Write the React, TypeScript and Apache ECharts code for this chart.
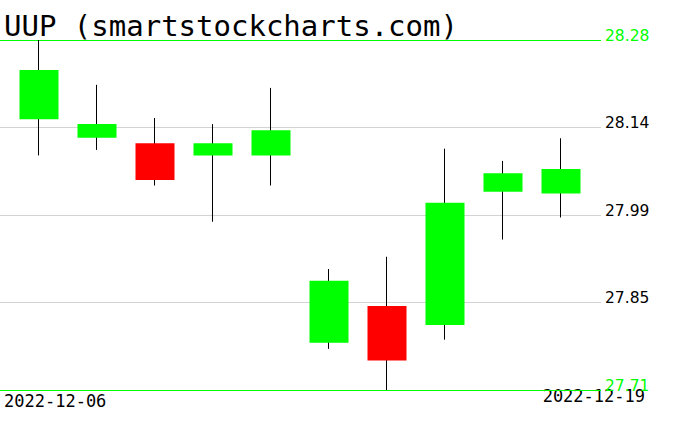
import React, { useEffect, useRef } from "react";
import * as echarts from "echarts";

const titleText = "UUP (smartstockcharts.com)";
const dates = ["2022-12-06", "2022-12-07", "2022-12-08", "2022-12-09", "2022-12-12", "2022-12-13", "2022-12-14", "2022-12-15", "2022-12-16", "2022-12-19"];
const opens = [28.151, 28.121, 28.112, 28.092, 28.092, 27.787, 27.847, 27.816, 28.033, 28.030];
const closes = [28.231, 28.143, 28.052, 28.112, 28.133, 27.888, 27.758, 28.015, 28.063, 28.070];
const lows = [28.092, 28.101, 28.043, 27.984, 28.043, 27.777, 27.710, 27.792, 27.955, 27.991];
const highs = [28.280, 28.207, 28.153, 28.143, 28.202, 27.907, 27.927, 28.103, 28.083, 28.120];
const tickValues = [27.71, 27.8525, 27.995, 28.1375, 28.28];
const tickLabels = ["27.71", "27.85", "27.99", "28.14", "28.28"];

const GREEN = "#00ff00";
const RED = "#ff0000";
const GRAY = "#d3d3d3";

const X_MIN = -39 / 58;
const X_MAX = (601 - 39) / 58;

export default function App() {
  const ref = useRef<HTMLDivElement>(null);
  useEffect(() => {
    if (!ref.current) return;
    document.body.style.margin = "0";
    const chart = echarts.init(ref.current, null, { renderer: "svg" });
    const n = dates.length;
    const wickData = dates.map((_, i) => [i, opens[i], closes[i], lows[i], highs[i]]);
    const bodyData = dates.map((_, i) => [
      i,
      opens[i],
      closes[i],
      Math.min(opens[i], closes[i]),
      Math.max(opens[i], closes[i]),
    ]);
    const lastIdx = tickValues.length - 1;
    chart.setOption({
      animation: false,
      backgroundColor: "#ffffff",
      grid: { left: 0, right: 75, top: 40, bottom: 41, containLabel: false },
      xAxis: {
        type: "value",
        min: X_MIN,
        max: X_MAX,
        show: false,
        splitLine: { show: false },
      },
      yAxis: {
        type: "value",
        min: tickValues[0],
        max: tickValues[lastIdx],
        show: false,
        splitLine: { show: false },
      },
      graphic: [
        {
          type: "text",
          left: 4,
          top: 11,
          style: {
            text: titleText,
            font: "29px 'DejaVu Sans Mono'",
            fill: "#000000",
          },
        },
        {
          type: "text",
          left: 4,
          top: 392,
          style: {
            text: dates[0],
            font: "17px 'DejaVu Sans Mono'",
            fill: "#000000",
          },
        },
        {
          type: "text",
          right: 31,
          top: 387,
          style: {
            text: dates[n - 1],
            font: "17px 'DejaVu Sans Mono'",
            fill: "#000000",
          },
        },
      ],
      series: [
        {
          type: "candlestick",
          data: wickData,
          barWidth: 0.01,
          silent: true,
          itemStyle: {
            color: "#000000",
            color0: "#000000",
            borderColor: "#000000",
            borderColor0: "#000000",
            borderWidth: 1,
          },
          z: 2,
        },
        {
          type: "candlestick",
          data: bodyData,
          barWidth: 40,
          silent: true,
          itemStyle: {
            color: GREEN,
            color0: RED,
            borderColor: GREEN,
            borderColor0: RED,
            borderWidth: 0,
          },
          z: 3,
          markLine: {
            silent: true,
            symbol: ["none", "none"],
            precision: 4,
            data: tickValues.map((v, i) => {
              const edge = i === 0 || i === lastIdx;
              return [
                {
                  coord: [X_MIN, v],
                  name: tickLabels[i],
                  lineStyle: { color: edge ? GREEN : GRAY, width: 1, type: "solid" },
                  label: { color: edge ? GREEN : "#000000" },
                },
                { coord: [X_MAX, v] },
              ];
            }),
            label: {
              show: true,
              position: "end",
              formatter: "{b}",
              distance: 4,
              verticalAlign: "bottom",
              lineHeight: 9,
              fontFamily: "DejaVu Sans",
              fontSize: 15.5,
            },
            z: 1,
          },
        },
      ],
    });
    return () => chart.dispose();
  }, []);
  return <div ref={ref} style={{ width: 676, height: 431 }} />;
}
